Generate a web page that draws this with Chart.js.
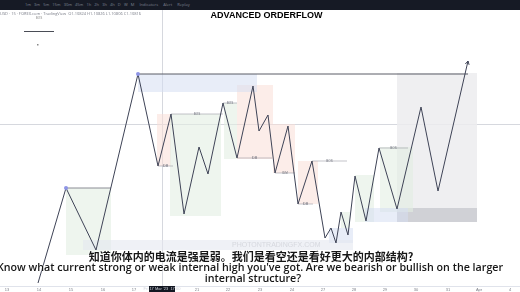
<!DOCTYPE html>
<html>
<head>
<meta charset="utf-8">
<script src="https://cdn.jsdelivr.net/npm/chart.js@4.4.1/dist/chart.umd.min.js"></script>
<style>
  html, body { margin: 0; padding: 0; background: #fff; }
  #wrap { position: relative; width: 520px; height: 292px; overflow: hidden; font-family: "Open Sans", "Noto Sans", sans-serif; }
  #chart { position: absolute; left: 0; top: 0; }
  .toolbar { position: absolute; left: 0; top: 0; width: 520px; height: 10px; background: #161a25; color: #7d8290; font-size: 4px; line-height: 10px; white-space: nowrap; }
  .hdr { position: absolute; left: 0; top: 11px; font-size: 4px; color: #787b86; white-space: nowrap; }
  .title { position: absolute; left: 0; width: 533px; top: 10px; text-align: center; font: bold 9px "Liberation Sans", Arial, sans-serif; color: #000; }
  .sub { position: absolute; text-align: center; color: #161616; font-weight: 600; white-space: nowrap;
         text-shadow: 0 0 2px #fff, 0 0 2px #fff; }
  .zh { left: 0; width: 502px; top: 248px; font: 600 11px "Noto Sans CJK SC", sans-serif; }
  .en1 { left: -12px; width: 524px; top: 260px; font-size: 10.7px; }
  .en2 { left: 0; width: 506px; top: 271px; font-size: 10.7px; }
</style>
</head>
<body>
<div id="wrap">
  <canvas id="chart" width="520" height="292"></canvas>
  <div class="toolbar">&nbsp;&nbsp;&nbsp;&nbsp;&nbsp;&nbsp;&nbsp;&nbsp;&nbsp;&nbsp;&nbsp;&nbsp;&nbsp;&nbsp;&nbsp;&nbsp;&nbsp;&nbsp;&nbsp;&nbsp;&nbsp;&nbsp;&nbsp;&nbsp;1m&nbsp;&nbsp;&nbsp;3m&nbsp;&nbsp;&nbsp;5m&nbsp;&nbsp;&nbsp;15m&nbsp;&nbsp;&nbsp;30m&nbsp;&nbsp;&nbsp;45m&nbsp;&nbsp;&nbsp;1h&nbsp;&nbsp;&nbsp;2h&nbsp;&nbsp;&nbsp;3h&nbsp;&nbsp;&nbsp;4h&nbsp;&nbsp;&nbsp;D&nbsp;&nbsp;&nbsp;W&nbsp;&nbsp;&nbsp;M&nbsp;&nbsp;&nbsp;&nbsp;&nbsp;Indicators&nbsp;&nbsp;&nbsp;&nbsp;&nbsp;Alert&nbsp;&nbsp;&nbsp;&nbsp;&nbsp;Replay</div>
  <div class="hdr">USD · 15 · FOREX.com · TradingView &nbsp;O1.10824 H1.10826 L1.10806 C1.10816</div>
  <div class="title">ADVANCED ORDERFLOW</div>
  <div class="sub zh">知道你体内的电流是强是弱。我们是看空还是看好更大的内部结构?</div>
  <div class="sub en1">Know what current strong or weak internal high you've got. Are we bearish or bullish on the larger</div>
  <div class="sub en2">internal structure?</div>
</div>
<script>
// Swing path (time in bars, price level)
const swingTime  = [38, 66, 96, 138, 158, 171, 184, 199, 208, 223, 237, 253, 259, 268, 275, 288, 298, 312, 325, 331, 336, 341, 348, 355, 366, 379, 397, 421, 438, 468];
const swingPrice = [9, 104, 42, 218, 126, 178, 78, 145, 118, 189, 134, 206, 161, 177, 119, 166, 88, 131, 54, 64, 49, 80, 57, 116, 71, 144, 83, 185, 101, 231];

// Zones: [timeStart, timeEnd, priceLow, priceHigh]
const bearZones = [[157, 171, 126, 178], [237, 273, 133, 207], [273, 295, 119, 168], [298, 318, 88, 131]];
const bullZones = [[66, 111, 37, 104], [170, 221, 76, 178], [224, 237, 133, 189], [355, 374, 70, 117], [380, 413, 80, 145], [341, 350, 64, 80]];
const blueZones = [[138, 257, 200, 218], [329, 353, 49, 64], [365, 408, 70, 84]];
const premiumZone = [397, 477, 84, 219];
const discountZone = [397, 477, 70, 84];

// Structure levels: [timeStart, timeEnd, price, label]
const levels = [[171, 223, 178, 'BOS'], [158, 173, 126, 'IDM'], [223, 237, 189, 'BOS'], [237, 272, 134, 'IDM'],
                [275, 295, 119, 'IDM'], [312, 347, 131, 'BOS'], [298, 313, 88, 'IDM'], [379, 408, 144, 'BOS']];
const majorHigh = [138, 468, 218];
const swingLevel = [66, 111, 104];
const markers = [[138, 218], [66, 104]];

// Axis
const tickTimes  = [7, 39, 71, 103, 134, 197, 228, 260, 292, 323, 354, 385, 416, 448, 479, 510];
const tickLabels = ['13', '14', '15', '16', '17', '21', '22', '23', '24', '27', '28', '29', '30', '31', 'Apr', '4'];
const cursorTime = 162;
const cursorPrice = 168;
const cursorLabel = 'Fri 17 Mar \'23  17:00';

const drawingsPlugin = {
    id: 'drawings',
    beforeDatasetsDraw(chart) {
        const { ctx, scales: { x, y } } = chart;
        const rect = (z, fill) => {
            const x0 = x.getPixelForValue(z[0]), x1 = x.getPixelForValue(z[1]);
            const y0 = y.getPixelForValue(z[3]), y1 = y.getPixelForValue(z[2]);
            ctx.fillStyle = fill;
            ctx.fillRect(x0, y0, x1 - x0, y1 - y0);
        };
        ctx.save();
        // crosshair
        ctx.strokeStyle = '#d6d8de';
        ctx.lineWidth = 1;
        ctx.beginPath();
        ctx.moveTo(Math.round(x.getPixelForValue(cursorTime)) + 0.5, 10);
        ctx.lineTo(Math.round(x.getPixelForValue(cursorTime)) + 0.5, 286);
        ctx.moveTo(0, Math.round(y.getPixelForValue(cursorPrice)) + 0.5);
        ctx.lineTo(520, Math.round(y.getPixelForValue(cursorPrice)) + 0.5);
        ctx.stroke();

        rect(premiumZone, 'rgba(236,236,239,0.85)');
        rect(discountZone, 'rgba(200,201,207,0.85)');
        bearZones.forEach(z => rect(z, 'rgba(250,222,215,0.55)'));
        bullZones.forEach(z => rect(z, 'rgba(226,238,226,0.6)'));
        blueZones.forEach(z => rect(z, 'rgba(214,222,242,0.55)'));

        // levels
        ctx.strokeStyle = '#9a9ca6';
        ctx.lineWidth = 0.6;
        ctx.fillStyle = '#6d707b';
        ctx.font = '3px sans-serif';
        ctx.textAlign = 'center';
        ctx.textBaseline = 'middle';
        levels.forEach(l => {
            const yy = y.getPixelForValue(l[2]);
            const x0 = x.getPixelForValue(l[0]), x1 = x.getPixelForValue(l[1]);
            ctx.beginPath();
            ctx.moveTo(x0, yy);
            ctx.lineTo(x1, yy);
            ctx.stroke();
            ctx.fillText(l[3], (x0 + x1) / 2, yy);
        });

        ctx.strokeStyle = '#8a8c94';
        ctx.lineWidth = 1;
        ctx.beginPath();
        ctx.moveTo(x.getPixelForValue(swingLevel[0]), y.getPixelForValue(swingLevel[2]));
        ctx.lineTo(x.getPixelForValue(swingLevel[1]), y.getPixelForValue(swingLevel[2]));
        ctx.stroke();

        ctx.strokeStyle = '#5a5d66';
        ctx.beginPath();
        ctx.moveTo(x.getPixelForValue(majorHigh[0]), y.getPixelForValue(majorHigh[2]));
        ctx.lineTo(x.getPixelForValue(majorHigh[1]), y.getPixelForValue(majorHigh[2]));
        ctx.stroke();

        // left panel decorations
        ctx.strokeStyle = '#4a4d56';
        ctx.beginPath();
        ctx.moveTo(24, 31.5);
        ctx.lineTo(54, 31.5);
        ctx.stroke();
        ctx.fillStyle = '#888';
        ctx.fillRect(37, 44, 1.5, 1.5);
        ctx.fillText('BOS', 39, 18);

        // watermark band
        ctx.fillStyle = 'rgba(228,231,240,0.6)';
        ctx.fillRect(83, 240, 270, 10);
        ctx.fillStyle = 'rgba(190,192,200,0.5)';
        ctx.font = '7px sans-serif';
        ctx.textAlign = 'left';
        ctx.fillText('PHOTONTRADINGFX.COM', 232, 245);
        ctx.restore();
    },
    afterDatasetsDraw(chart) {
        const { ctx, scales: { x, y } } = chart;
        ctx.save();
        // swing markers
        markers.forEach(m => {
            ctx.fillStyle = '#8e95e6';
            ctx.beginPath();
            ctx.arc(x.getPixelForValue(m[0]), y.getPixelForValue(m[1]), 2, 0, Math.PI * 2);
            ctx.fill();
        });
        // arrow head on the last leg
        const n = swingTime.length;
        const ax = x.getPixelForValue(swingTime[n - 1]), ay = y.getPixelForValue(swingPrice[n - 1]);
        const bx = x.getPixelForValue(swingTime[n - 2]), by = y.getPixelForValue(swingPrice[n - 2]);
        const ang = Math.atan2(ay - by, ax - bx);
        ctx.strokeStyle = '#3e4356';
        ctx.lineWidth = 1;
        ctx.beginPath();
        ctx.moveTo(ax - 4 * Math.cos(ang - 0.5), ay - 4 * Math.sin(ang - 0.5));
        ctx.lineTo(ax, ay);
        ctx.lineTo(ax - 4 * Math.cos(ang + 0.5), ay - 4 * Math.sin(ang + 0.5));
        ctx.stroke();

        // time axis
        ctx.strokeStyle = '#e0e3eb';
        ctx.beginPath();
        ctx.moveTo(0, 286.5);
        ctx.lineTo(520, 286.5);
        ctx.stroke();
        ctx.fillStyle = '#7d808a';
        ctx.font = '4px sans-serif';
        ctx.textAlign = 'center';
        ctx.textBaseline = 'middle';
        tickTimes.forEach((t, i) => ctx.fillText(tickLabels[i], x.getPixelForValue(t), 289.5));
        const cx = x.getPixelForValue(cursorTime);
        ctx.fillStyle = '#131722';
        ctx.fillRect(cx - 13, 286, 26, 6);
        ctx.fillStyle = '#d1d4dc';
        ctx.fillText(cursorLabel, cx, 289.2);
        ctx.restore();
    }
};

new Chart(document.getElementById('chart'), {
    type: 'line',
    data: {
        datasets: [{
            data: swingTime.map((t, i) => ({ x: t, y: swingPrice[i] })),
            borderColor: '#3e4356',
            borderWidth: 1,
            pointRadius: 0,
            tension: 0,
            fill: false
        }]
    },
    options: {
        responsive: false,
        animation: false,
        layout: { padding: 0 },
        scales: {
            x: { type: 'linear', min: 0, max: 520, display: false },
            y: { type: 'linear', min: 0, max: 292, display: false }
        },
        plugins: {
            legend: { display: false },
            tooltip: { enabled: false }
        }
    },
    plugins: [drawingsPlugin]
});
</script>
</body>
</html>
